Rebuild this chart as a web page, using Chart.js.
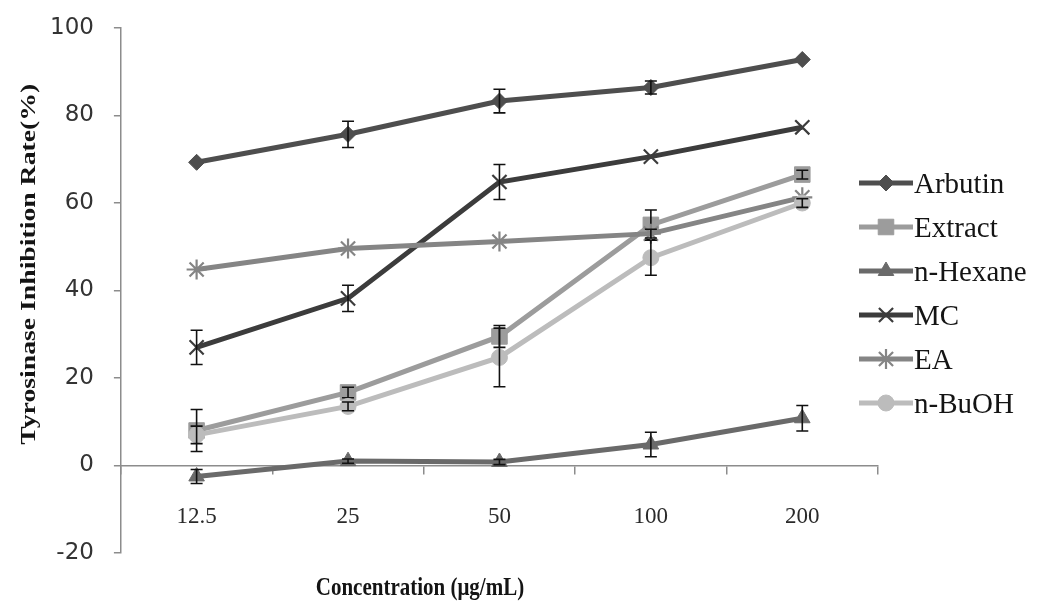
<!DOCTYPE html>
<html>
<head>
<meta charset="utf-8">
<script src="https://cdn.jsdelivr.net/npm/chart.js@4.4.1/dist/chart.umd.min.js"></script>
<style>
  html, body { margin: 0; padding: 0; background: #fff; }
  #wrap { position: relative; width: 1041px; height: 605px; }
  #legend {
    position: absolute; left: 858px; top: 161px;
    font-family: "Liberation Serif", "Times New Roman", serif;
    font-size: 29px; color: #141414;
  }
  .item { display: flex; align-items: center; height: 44px; }
</style>
</head>
<body>
<div id="wrap">
  <canvas id="chart" width="1041" height="605"></canvas>
  <div id="legend"></div>
</div>
<script>
// =====================
// Data
// =====================
const concentrations = ["12.5", "25", "50", "100", "200"];
const yTicks = [-20, 0, 20, 40, 60, 80, 100];
const xTitle = "Concentration (μg/mL)";
const yTitle = "Tyrosinase Inhibition Rate(%)";

const arbutin    = [69.3, 75.7, 83.3, 86.4, 92.8];
const arbutinErr = [0, 3.0, 2.7, 1.5, 0];
const extract    = [8.0, 16.7, 29.5, 55.0, 66.5];
const extractErr = [4.8, 1.2, 2.5, 3.4, 1.0];
const hexane     = [-2.5, 1.0, 0.8, 4.8, 10.8];
const hexaneErr  = [1.6, 0.5, 0.6, 2.8, 2.9];
const mc         = [27.0, 38.2, 64.8, 70.6, 77.3];
const mcErr      = [3.9, 3.0, 4.0, 0, 0];
const ea         = [44.8, 49.6, 51.2, 53.0, 61.3];
const eaErr      = [0, 0, 0, 1.0, 0];
const butanol    = [7.0, 13.5, 24.7, 47.5, 60.0];
const butanolErr = [2.0, 1.0, 6.7, 4.0, 1.0];

// =====================
// Series styling
// =====================
const series = [
  { label: "Arbutin",  data: arbutin, errors: arbutinErr, color: "#4e4e4e", marker: "rectRot",  r: 8 },
  { label: "Extract",  data: extract, errors: extractErr, color: "#9c9c9c", marker: "rect",     r: 11 },
  { label: "n-Hexane", data: hexane,  errors: hexaneErr,  color: "#6a6a6a", marker: "triangle", r: 9 },
  { label: "MC",       data: mc,      errors: mcErr,      color: "#3c3c3c", marker: "crossRot", r: 10 },
  { label: "EA",       data: ea,      errors: eaErr,      color: "#858585", marker: "star",     r: 10 },
  { label: "n-BuOH",   data: butanol, errors: butanolErr, color: "#bcbcbc", marker: "circle",   r: 8 }
];

const lineMarkers = ["crossRot", "star"];
const serif = "'Liberation Serif', 'Times New Roman', serif";

// =====================
// Plugins
// =====================
const errorBars = {
  id: "errorBars",
  afterDatasetDraw(chart, args) {
    const ds = chart.data.datasets[args.index];
    if (!ds.errors) return;
    const y = chart.scales.y;
    const ctx = chart.ctx;
    ctx.save();
    ctx.strokeStyle = "#111";
    ctx.lineWidth = 1.6;
    args.meta.data.forEach((pt, i) => {
      const e = ds.errors[i];
      if (!e) return;
      const v = ds.data[i];
      const top = y.getPixelForValue(v + e);
      const bot = y.getPixelForValue(v - e);
      ctx.beginPath();
      ctx.moveTo(pt.x, top); ctx.lineTo(pt.x, bot);
      ctx.moveTo(pt.x - 6, top); ctx.lineTo(pt.x + 6, top);
      ctx.moveTo(pt.x - 6, bot); ctx.lineTo(pt.x + 6, bot);
      ctx.stroke();
    });
    ctx.restore();
  }
};

// axis titles (the scan is a bit taller than wide, so the text is stretched along its length)
const axisTitles = {
  id: "axisTitles",
  afterDraw(chart) {
    const { ctx, chartArea: a } = chart;
    ctx.save();
    ctx.fillStyle = "#141414";
    ctx.textAlign = "center";
    ctx.textBaseline = "middle";
    ctx.font = "bold 21px " + serif;
    ctx.save();
    ctx.translate(a.left + (a.right - a.left) * 0.395, a.bottom + 35);
    ctx.scale(1, 1.2);
    ctx.fillText(xTitle, 0, 0);
    ctx.restore();
    ctx.save();
    ctx.translate(30, a.top + (a.bottom - a.top) * 0.45);
    ctx.rotate(-Math.PI / 2);
    ctx.scale(1.32, 1);
    ctx.fillText(yTitle, 0, 0);
    ctx.restore();
    ctx.restore();
  }
};

const datasets = series.map((s, i) => ({
  label: s.label,
  data: s.data,
  errors: s.errors,
  borderColor: s.color,
  backgroundColor: s.color,
  borderWidth: 5,
  pointStyle: s.marker,
  pointRadius: s.r,
  pointBorderWidth: lineMarkers.includes(s.marker) ? 2.2 : 1,
  pointBackgroundColor: s.color,
  pointBorderColor: s.color,
  tension: 0,
  order: series.length - i
}));

new Chart(document.getElementById("chart"), {
  type: "line",
  data: { labels: concentrations, datasets: datasets },
  plugins: [errorBars, axisTitles],
  options: {
    responsive: false,
    animation: false,
    devicePixelRatio: 1,
    layout: { padding: { left: 30, right: 163, top: 28, bottom: 52 } },
    plugins: {
      legend: { display: false },
      tooltip: { enabled: false }
    },
    scales: {
      x: {
        position: { y: 0 },
        offset: true,
        grid: { offset: true, drawOnChartArea: false, tickLength: 8, color: "#8c8c8c", lineWidth: 1.5 },
        border: { color: "#8c8c8c", width: 1.5 },
        ticks: {
          padding: 30,
          color: "#2a2a2a",
          font: { family: serif, size: 23 }
        }
      },
      y: {
        min: -20,
        max: 100,
        afterBuildTicks: axis => { axis.ticks = yTicks.map(v => ({ value: v })); },
        afterFit: axis => { axis.paddingTop = 0; axis.paddingBottom = 0; },
        grid: { drawOnChartArea: false, tickLength: 7, color: "#8c8c8c", lineWidth: 1.5 },
        border: { color: "#8c8c8c", width: 1.5 },
        ticks: {
          padding: 20,
          color: "#333",
          font: { family: "'DejaVu Sans', Verdana, sans-serif", size: 23 }
        }
      }
    }
  }
});

// =====================
// Legend (line + marker samples)
// =====================
const legendEl = document.getElementById("legend");
series.forEach(s => {
  const item = document.createElement("div");
  item.className = "item";
  const c = document.createElement("canvas");
  c.width = 56; c.height = 24;
  const g = c.getContext("2d");
  g.strokeStyle = s.color;
  g.lineWidth = 5;
  g.beginPath(); g.moveTo(1, 12); g.lineTo(55, 12); g.stroke();
  g.fillStyle = s.color;
  g.lineWidth = lineMarkers.includes(s.marker) ? 2.2 : 1;
  if (Chart.helpers && Chart.helpers.drawPoint) {
    Chart.helpers.drawPoint(g, { pointStyle: s.marker, radius: s.r, borderWidth: g.lineWidth, rotation: 0 }, 28, 12);
  }
  const t = document.createElement("span");
  t.textContent = s.label;
  item.appendChild(c);
  item.appendChild(t);
  legendEl.appendChild(item);
});
</script>
</body>
</html>
